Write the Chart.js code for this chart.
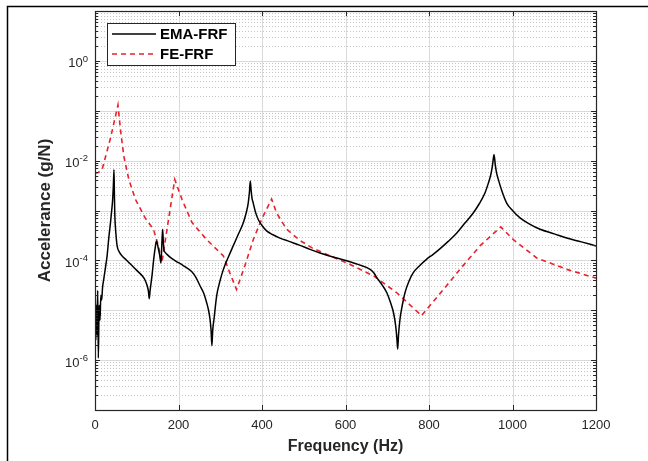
<!DOCTYPE html>
<html>
<head>
<meta charset="utf-8">
<script src="https://cdn.jsdelivr.net/npm/chart.js@4.4.1/dist/chart.umd.min.js"></script>
<style>
html,body{margin:0;padding:0;background:#fff;}
canvas{display:block;}
</style>
</head>
<body>
<canvas id="c" width="648" height="461"></canvas>
<script>
// ---- data ----
const emaFreq = [0,1,2,3.2,5,6.5,8,10,12,14,16,18,21,25,29,33,37,40,42.3,44,45.5,46.5,47.5,50,53,58,65,75,89,100,113,120,125,128,130,132,136.5,141,145,147,149.5,152.5,155,158,160,162,163.5,165,168,172.5,182,192.5,212,232,242,251.5,260,267.5,272,275.5,278,280,282,285,291.4,298,307.5,320,331,343,355,362,367,370,372,374,376,379,384,391,400,411,425,443,465,491,515,539,570,603,630,659,668,675,688,699,708,715,720,723,725,727,730.5,736,742.5,752,762,778,794,810,826,846,866,886,906,920,934,942,948,952,955.7,959,962,966,975,986,1000,1018,1040,1066,1100,1130,1165,1200];
const emaVal = [1.26e-4,1.26e-5,2.5e-6,1.26e-5,3.2e-6,2.5e-5,1.1e-6,1.26e-5,6.3e-6,2.0e-5,1.6e-5,2.8e-5,4.2e-5,7.1e-5,1.23e-4,2.8e-4,5.6e-4,1.0e-3,1.66e-3,3.16e-3,6.6e-3,2.0e-3,7.9e-4,3.5e-4,1.95e-4,1.48e-4,1.23e-4,1.02e-4,7.8e-5,6.3e-5,4.9e-5,4.0e-5,3.1e-5,2.4e-5,1.7e-5,2.5e-5,4.9e-5,1.12e-4,2.0e-4,2.45e-4,2.1e-4,1.6e-4,1.26e-4,8.9e-5,2.0e-4,4.2e-4,2.5e-4,1.66e-4,1.45e-4,1.32e-4,1.12e-4,9.8e-5,7.8e-5,5.9e-5,4.5e-5,3.1e-5,2.24e-5,1.41e-5,1.0e-5,6.6e-6,4.0e-6,1.95e-6,4.0e-6,6.6e-6,1.95e-5,3.5e-5,6.6e-5,1.2e-4,1.95e-4,3.3e-4,5.6e-4,8.9e-4,1.41e-3,2.4e-3,3.9e-3,2.5e-3,1.78e-3,1.41e-3,9.5e-4,6.6e-4,5.0e-4,3.9e-4,3.3e-4,2.8e-4,2.4e-4,2.0e-4,1.66e-4,1.41e-4,1.17e-4,9.8e-5,8.3e-5,6.6e-5,5.6e-5,4.5e-5,3.2e-5,2.24e-5,1.41e-5,8.9e-6,5.0e-6,2.8e-6,1.66e-6,3.2e-6,6.6e-6,1.26e-5,2.24e-5,3.8e-5,5.6e-5,7.9e-5,1.05e-4,1.32e-4,1.7e-4,2.4e-4,3.5e-4,5.6e-4,8.9e-4,1.35e-3,2.24e-3,3.5e-3,5.2e-3,7.9e-3,1.32e-2,7.9e-3,5.6e-3,4.2e-3,2.4e-3,1.41e-3,1.0e-3,7.1e-4,5.4e-4,4.2e-4,3.4e-4,2.8e-4,2.35e-4,1.95e-4];

const feFreq = [0,8,17,37,55,61,69,81,97,120,140,152,160,191,208.5,232,267.5,307.5,323,339,359,379,399,423,435,459,491,520,563,611,667,723,782,842,874,922,972,1002,1058,1130,1200];
const feVal  = [5.6e-3,5.8e-3,6.6e-3,2.8e-2,0.13,4.2e-2,1.23e-2,4.2e-3,1.66e-3,7.1e-4,4.2e-4,1.95e-4,8.9e-5,4.2e-3,1.66e-3,5.8e-4,2.6e-4,1.23e-4,5.6e-5,2.6e-5,7.8e-5,2.6e-4,6.6e-4,1.7e-3,8.9e-4,4.2e-4,2.5e-4,1.78e-4,1.23e-4,8.3e-5,4.9e-5,2.24e-5,7.8e-6,3.1e-5,6.6e-5,1.95e-4,4.7e-4,2.6e-4,1.12e-4,6.6e-5,4.4e-5];

const xTicks = [0,200,400,600,800,1000,1200];
const yLabelExps = [0,-2,-4,-6];
const yDecadeExps = [-7,-6,-5,-4,-3,-2,-1,0,1];
const seriesNames = ['EMA-FRF','FE-FRF'];
const xTitle = 'Frequency (Hz)';
const yTitle = 'Accelerance (g/N)';

const FONT = '"Liberation Sans", Arial, Helvetica, sans-serif';
const RED = '#e8222c';

function pts(xs, ys){ return xs.map((x,i)=>({x:x, y:ys[i]})); }

const decorPlugin = {
  id:'decor',
  beforeDatasetsDraw(chart){
    const ctx = chart.ctx, a = chart.chartArea;
    const xs = chart.scales.x, ys = chart.scales.y;
    ctx.save();
    // minor y grid (dotted)
    ctx.strokeStyle = '#c6c6c6';
    ctx.lineWidth = 1;
    ctx.setLineDash([1,2]);
    for (const k of yDecadeExps){
      for (let m=2;m<=9;m++){
        const v = m*Math.pow(10,k);
        if (v<=ys.min || v>=ys.max) continue;
        const y = Math.round(ys.getPixelForValue(v))+0.5;
        ctx.beginPath(); ctx.moveTo(a.left,y); ctx.lineTo(a.right,y); ctx.stroke();
      }
    }
    // major grid
    ctx.setLineDash([]);
    ctx.strokeStyle = '#dadada';
    for (const k of yDecadeExps){
      const v = Math.pow(10,k);
      if (v<=ys.min || v>=ys.max) continue;
      const y = Math.round(ys.getPixelForValue(v))+0.5;
      ctx.beginPath(); ctx.moveTo(a.left,y); ctx.lineTo(a.right,y); ctx.stroke();
    }
    for (const t of xTicks){
      if (t<=xs.min || t>=xs.max) continue;
      const x = Math.round(xs.getPixelForValue(t))+0.5;
      ctx.beginPath(); ctx.moveTo(x,a.top); ctx.lineTo(x,a.bottom); ctx.stroke();
    }
    ctx.restore();
  },
  afterDraw(chart){
    const ctx = chart.ctx, a = chart.chartArea;
    const xs = chart.scales.x, ys = chart.scales.y;
    ctx.save();
    ctx.setLineDash([]);
    // axes box
    ctx.strokeStyle = '#262626';
    ctx.lineWidth = 1.2;
    ctx.strokeRect(a.left+0.5, a.top+0.5, a.right-a.left, a.bottom-a.top);
    // ticks
    ctx.lineWidth = 1;
    ctx.beginPath();
    for (const t of xTicks){
      const x = Math.round(xs.getPixelForValue(t))+0.5;
      ctx.moveTo(x,a.bottom); ctx.lineTo(x,a.bottom-5);
      ctx.moveTo(x,a.top); ctx.lineTo(x,a.top+5);
    }
    for (const k of yDecadeExps){
      for (let m=1;m<=9;m++){
        const v = m*Math.pow(10,k);
        if (v<ys.min || v>ys.max) continue;
        const y = Math.round(ys.getPixelForValue(v))+0.5;
        const L = m===1?5:3;
        ctx.moveTo(a.left,y); ctx.lineTo(a.left+L,y);
        ctx.moveTo(a.right,y); ctx.lineTo(a.right-L,y);
      }
    }
    ctx.stroke();
    // y tick labels with superscripts
    ctx.fillStyle = '#262626';
    ctx.textBaseline = 'middle';
    for (const k of yLabelExps){
      const y = ys.getPixelForValue(Math.pow(10,k));
      const base = '10', exp = String(k);
      ctx.font = '13px '+FONT;
      const wb = ctx.measureText(base).width;
      ctx.font = '9.5px '+FONT;
      const we = ctx.measureText(exp).width;
      const right = a.left - 7;
      ctx.font = '13px '+FONT;
      ctx.textAlign = 'left';
      ctx.fillText(base, right-we-wb, y+3);
      ctx.font = '9.5px '+FONT;
      ctx.fillText(exp, right-we, y-2);
    }
    // axis titles
    ctx.fillStyle = '#262626';
    ctx.font = 'bold 16px '+FONT;
    ctx.textAlign = 'center';
    ctx.textBaseline = 'middle';
    ctx.fillText(xTitle, (a.left+a.right)/2, 447);
    ctx.save();
    ctx.font = 'bold 17px '+FONT;
    ctx.translate(45, (a.top+a.bottom)/2);
    ctx.rotate(-Math.PI/2);
    ctx.fillText(yTitle, 0, 0);
    ctx.restore();
    // legend
    const lx=107.5, ly=23.5, lw=128, lh=42;
    ctx.fillStyle='#fff';
    ctx.fillRect(lx,ly,lw,lh);
    ctx.strokeStyle='#262626'; ctx.lineWidth=1;
    ctx.strokeRect(lx,ly,lw,lh);
    const ds = chart.data.datasets;
    const rows=[34,54];
    for (let i=0;i<2;i++){
      ctx.strokeStyle = ds[i].borderColor;
      ctx.lineWidth = 1.6;
      ctx.setLineDash(ds[i].borderDash||[]);
      ctx.beginPath(); ctx.moveTo(112,rows[i]); ctx.lineTo(156,rows[i]); ctx.stroke();
      ctx.setLineDash([]);
      ctx.fillStyle='#000';
      ctx.font='bold 15px '+FONT;
      ctx.textAlign='left'; ctx.textBaseline='middle';
      ctx.fillText(ds[i].label, 160, rows[i]+1);
    }
    // outer figure frame
    ctx.strokeStyle='#000'; ctx.lineWidth=1.5;
    ctx.beginPath();
    ctx.moveTo(7.5,461); ctx.lineTo(7.5,6.5); ctx.lineTo(648,6.5);
    ctx.stroke();
    ctx.restore();
  }
};

new Chart(document.getElementById('c'), {
  type:'line',
  data:{
    datasets:[
      {label:seriesNames[0], data:pts(emaFreq, emaVal), borderColor:'#000000', borderWidth:1.5, pointRadius:0, tension:0, cubicInterpolationMode:'monotone', fill:false},
      {label:seriesNames[1], data:pts(feFreq, feVal), borderColor:RED, borderWidth:1.6, borderDash:[5,4], pointRadius:0, tension:0, fill:false}
    ]
  },
  options:{
    responsive:false,
    animation:false,
    devicePixelRatio:1,
    layout:{padding:{left:0, right:52, top:11, bottom:0}},
    plugins:{legend:{display:false}, tooltip:{enabled:false}},
    scales:{
      x:{
        type:'linear', min:0, max:1200,
        afterBuildTicks(s){ s.ticks = xTicks.map(v=>({value:v})); },
        ticks:{font:{family:FONT,size:13}, color:'#262626', padding:8, maxRotation:0, autoSkip:false,
               callback:(v)=>String(v)},
        grid:{display:false, drawTicks:false},
        border:{display:false},
        afterFit(s){ s.height = 51; }
      },
      y:{
        type:'logarithmic', min:1e-7, max:10,
        ticks:{display:false},
        grid:{display:false, drawTicks:false},
        border:{display:false},
        afterFit(s){ s.width = 95; }
      }
    }
  },
  plugins:[decorPlugin]
});
</script>
</body>
</html>
